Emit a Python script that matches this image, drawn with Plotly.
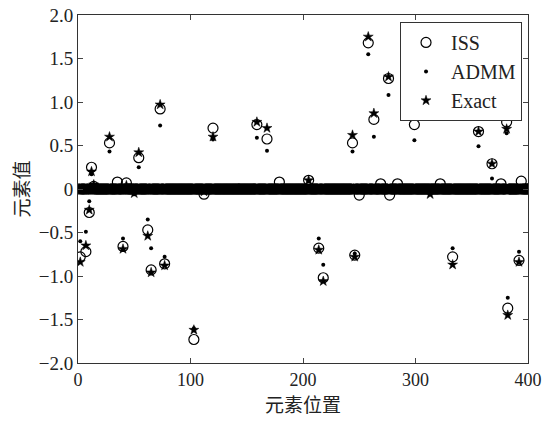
import numpy as np
import plotly.graph_objects as go

N = 400
# positions of the non-zero / visibly off-zero elements
positions = [2, 7, 10, 12, 14, 28, 35, 40, 43, 50, 54, 62, 65, 73, 77,
             103, 112, 120, 143, 159, 168, 179, 205, 214, 218, 244, 246, 250,
             258, 263, 269, 276, 277, 284, 299, 313, 322, 333, 356, 368, 376,
             381, 382, 388, 392, 394]
iss_vals = [-0.78, -0.72, -0.27, 0.25, 0.03, 0.53, 0.08, -0.66, 0.07, 0.0, 0.36, -0.47, -0.93, 0.92, -0.86,
            -1.73, -0.06, 0.70, 0.0, 0.74, 0.575, 0.08, 0.10, -0.68, -1.02, 0.53, -0.76, -0.07,
            1.68, 0.80, 0.06, 1.27, -0.07, 0.06, 0.74, 0.0, 0.06, -0.78, 0.66, 0.29, 0.06,
            0.77, -1.37, 0.0, -0.82, 0.09]
admm_vals = [-0.60, -0.49, -0.14, 0.17, 0.05, 0.43, 0.0, -0.57, 0.03, -0.06, 0.25, -0.35, -0.68, 0.73, -0.78,
             -1.60, -0.03, 0.57, 0.04, 0.59, 0.44, 0.0, 0.09, -0.57, -0.87, 0.43, -0.74, 0.0,
             1.55, 0.60, 0.0, 1.08, 0.0, 0.0, 0.56, -0.05, 0.0, -0.68, 0.49, 0.12, 0.0,
             0.64, -1.25, 0.92, -0.72, 0.0]
exact_vals = [-0.84, -0.65, -0.24, 0.20, 0.05, 0.60, 0.0, -0.69, 0.04, -0.05, 0.42, -0.54, -0.96, 0.97, -0.88,
              -1.62, -0.03, 0.60, 0.0, 0.77, 0.70, 0.0, 0.10, -0.70, -1.06, 0.62, -0.78, 0.0,
              1.75, 0.87, 0.0, 1.29, 0.0, 0.0, 0.83, -0.06, 0.0, -0.87, 0.66, 0.29, 0.0,
              0.69, -1.45, 0.0, -0.84, 0.0]

y_ticks = [-2.0, -1.5, -1.0, -0.5, 0.0, 0.5, 1.0, 1.5, 2.0]
y_ticktext = ["\u22122.0", "\u22121.5", "\u22121.0", "\u22120.5", "0", "0.5", "1.0", "1.5", "2.0"]
x_ticks = [0, 100, 200, 300, 400]

x = np.arange(1, N + 1)
def full(vals):
    arr = np.zeros(N)
    for p, v in zip(positions, vals):
        arr[p - 1] = v
    return arr

iss = full(iss_vals)
admm = full(admm_vals)
exact = full(exact_vals)

serif = "Liberation Serif, Times New Roman, serif"
cjk = "Noto Sans CJK SC"

fig = go.Figure()
fig.add_trace(go.Scatter(x=x, y=iss, mode="markers", name="ISS",
                         marker=dict(symbol="circle-open", size=10, color="black",
                                     line=dict(width=1.2, color="black"))))
fig.add_trace(go.Scatter(x=x, y=admm, mode="markers", name="ADMM",
                         marker=dict(symbol="circle", size=4, color="black")))
fig.add_trace(go.Scatter(x=x, y=exact, mode="markers", name="Exact",
                         marker=dict(symbol="star", size=7.5, color="black",
                                     line=dict(width=0.5, color="black"))))

fig.update_layout(
    width=542, height=425,
    margin=dict(l=78, r=14, t=15, b=62, autoexpand=False),
    paper_bgcolor="white", plot_bgcolor="white",
    showlegend=True,
    legend=dict(x=0.9867, y=0.98, xanchor="right", yanchor="top",
                bgcolor="white", bordercolor="#333", borderwidth=1,
                font=dict(family=serif, size=20, color="#222"),
                itemsizing="trace", itemwidth=40, tracegroupgap=0),
    xaxis=dict(range=[0, 400], tickvals=x_ticks, ticks="inside", ticklen=5,
               showline=True, mirror="ticks", linecolor="#333", linewidth=1,
               showgrid=False, zeroline=False, ticklabeloverflow="allow", automargin=False,
               tickfont=dict(family=serif, size=18, color="#222"),
               title=dict(text="元素位置", font=dict(family=cjk, size=19, color="#222"), standoff=10)),
    yaxis=dict(range=[-2, 2], tickvals=y_ticks, ticktext=y_ticktext, ticks="inside", ticklen=5,
               showline=True, mirror="ticks", linecolor="#333", linewidth=1,
               showgrid=False, zeroline=False, automargin=False,
               tickfont=dict(family=serif, size=19, color="#222"),
               title=dict(text="元素值", font=dict(family=cjk, size=19, color="#222"), standoff=4)),
)

fig.write_html("out.html")
